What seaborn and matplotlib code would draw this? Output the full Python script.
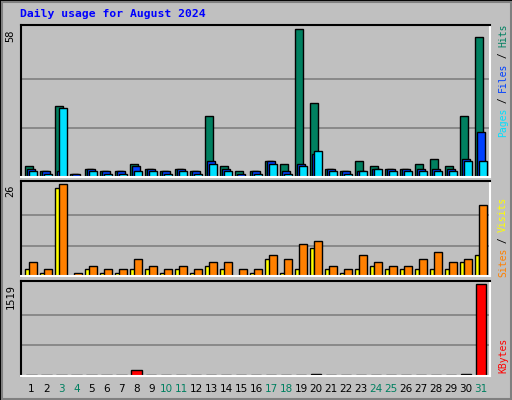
import numpy as np
import pandas as pd
import seaborn as sns
import matplotlib
matplotlib.use("Agg")
import matplotlib.pyplot as plt
from matplotlib.patches import Rectangle

days = list(range(1, 32))
hits = [4.5,2.5,28,1.3,3.3,2.5,2.5,5.3,3.3,2.5,3.3,2.5,24,4.5,2.5,2.5,6.4,5.3,58,29,3.3,2.5,6.4,4.5,3.3,3.3,5.3,7.2,4.5,24,55]
files = [3.3,2.5,2.5,1.3,3.3,2.5,2.5,4.5,3.3,2.5,3.3,2.5,6.4,3.3,1.3,2.5,6.4,2.5,5.3,9.2,3.3,2.5,2.5,3.3,3.3,3.3,3.3,3.3,3.3,7.2,17.5]
pages = [2.5,1.3,27,0,2.5,1.3,1.3,2.5,2.5,1.3,2.5,1.3,5.3,2.5,0,1.3,5.3,1.3,4.5,10.4,2.5,1.3,2.5,3.3,2.5,2.5,2.5,2.5,2.5,6.4,6.4]
sites = [2,1,25,0,2,1,1,2,2,1,2,1,3,2,0,1,5,1,2,8,2,1,2,3,2,2,2,2,2,4,6]
visits = [4,2,26,1,3,2,2,5,3,2,3,2,4,4,2,2,6,5,9,10,3,2,6,4,3,3,5,7,4,5,20]
kbytes = [14,14,14,14,14,14,14,94,14,14,14,14,14,14,14,14,14,14,14,24,14,14,14,14,14,14,14,14,14,28,1519]
weekend = [3,4,10,11,17,18,24,25,31]
title = "Daily usage for August 2024"

sns.set_theme(style="white")
BG = "#C0C0C0"
W, H = 512, 400
fig = plt.figure(figsize=(5.12, 4.0), dpi=100, facecolor=BG)
mono = "DejaVu Sans Mono"

def pax(l, t, r, b):
    return fig.add_axes([l / W, 1 - b / H, (r - l) / W, (b - t) / H])

def style(ax, ymax, ytop, label):
    ax.set_facecolor(BG)
    ax.set_xlim(0.31, 31.6)
    ax.set_ylim(0, ytop)
    for g in (ymax / 3, 2 * ymax / 3):
        ax.axhline(g, color="#808080", lw=1.2, zorder=0)
    ax.set_xticks([]); ax.set_yticks([])
    ax.set_xlabel(""); ax.set_ylabel("")
    for s in ("left", "top"):
        ax.spines[s].set_color("black"); ax.spines[s].set_linewidth(1.5)
    for s in ("right", "bottom"):
        ax.spines[s].set_color("white"); ax.spines[s].set_linewidth(1.5)
    ax.text(-0.012, 1 - (ytop - ymax) / ytop, label, transform=ax.transAxes, rotation=90,
            ha="right", va="top", fontsize=7.5, family=mono, color="black")
    if ax.get_legend():
        ax.get_legend().remove()

d = np.array(days, dtype=float)

def bars(ax, xs, vals, color, width):
    df = pd.DataFrame({"x": xs, "y": vals})
    sns.barplot(data=df, x="x", y="y", ax=ax, native_scale=True, color=color,
                width=width, edgecolor="black", linewidth=1, saturation=1, zorder=2)

ax1 = pax(21, 25, 490, 177)
bars(ax1, d - 0.14, hits, "#008060", 0.5)
bars(ax1, d - 0.01, files, "#0040FF", 0.5)
bars(ax1, d + 0.12, pages, "#00E0FF", 0.5)
style(ax1, 58, 59.7, "58")

ax2 = pax(21, 180.7, 490, 276.3)
bars(ax2, d - 0.26, sites, "#FFFF00", 0.3)
bars(ax2, d + 0.12, visits, "#FF8000", 0.5)
style(ax2, 26, 27.0, "26")

ax3 = pax(21, 280.7, 490, 375.7)
bars(ax3, d, kbytes, "#FF0000", 0.7)
style(ax3, 1519, 1579, "1519")

for dd in days:
    x = 21 + (dd - 0.31) / (31.6 - 0.31) * 469
    fig.text(x / W, 1 - 389 / H, str(dd), ha="center", va="center", fontsize=7.5,
             color="#008060" if dd in weekend else "black")

fig.text(20 / W, 1 - 14 / H, title, ha="left", va="center", fontsize=8.2,
         family=mono, weight="bold", color="#0000FF")

def vlabel(bottom_px, parts):
    y = bottom_px
    for txt, col in parts:
        fig.text(503 / W, 1 - y / H, txt, rotation=90, ha="center", va="bottom",
                 fontsize=7, family=mono, color=col)
        y -= len(txt) * 5.6

vlabel(137, [("Pages", "#00E0FF"), (" / ", "black"), ("Files", "#0040FF"), (" / ", "black"), ("Hits", "#008060")])
vlabel(277, [("Sites", "#FF8000"), (" / ", "black"), ("Visits", "#FFFF00")])
vlabel(373, [("KBytes", "#FF0000")])

fig.patches.append(Rectangle((0, 0), 1, 1, transform=fig.transFigure, fill=False,
                             edgecolor="black", lw=2))
fig.patches.append(Rectangle((1.5 / W, 1.5 / H), 1 - 3 / W, 1 - 3 / H, transform=fig.transFigure,
                             fill=False, edgecolor="#808080", lw=1.5))
fig.savefig("out.png", dpi=100, facecolor=BG)
